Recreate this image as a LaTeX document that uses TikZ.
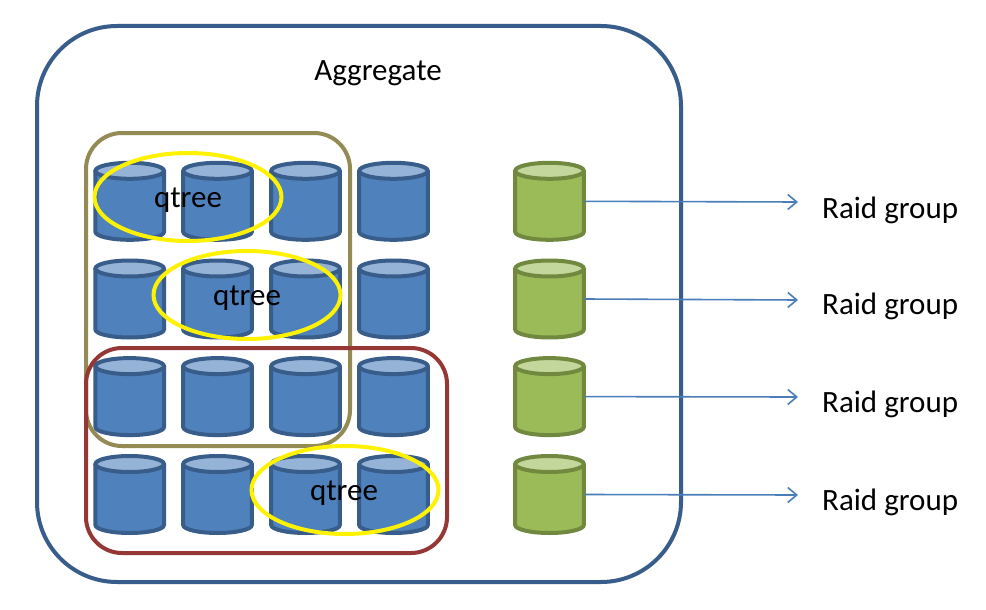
\documentclass[tikz,border=0pt]{standalone}
\usepackage{fontspec}
\setmainfont{Carlito}
\definecolor{bluefill}{HTML}{4F81BD}
\definecolor{blueline}{HTML}{385D8A}
\definecolor{bluetop}{HTML}{95B3D7}
\definecolor{greenfill}{HTML}{9BBB59}
\definecolor{greenline}{HTML}{71893F}
\definecolor{greentop}{HTML}{C3D69B}
\definecolor{olivebox}{HTML}{948A54}
\definecolor{redbox}{HTML}{953735}
\definecolor{arrowblue}{HTML}{4A7EBB}
\usetikzlibrary{shapes.geometric,arrows.meta}
\tikzset{
  cylslot/.style={minimum width=70pt,minimum height=78pt,inner sep=0pt,outer sep=0pt},
  cylline/.style={line width=4pt},
  group/.style={line width=4pt,rounded corners=#1},
  yring/.style={draw=yellow,line width=4pt,ellipse,minimum width=187pt,minimum height=88pt,inner sep=0pt},
  lbl/.style={font=\fontsize{31}{34}\selectfont,text=black,inner sep=0pt},
  rgarrow/.style={draw=arrowblue,line width=1.6pt,-{Straight Barb[length=9pt,width=15pt,line width=1.6pt]}}
}
\newcommand{\drum}[4]{% name, centre x, centre y, colour prefix
  \node[cylslot] (#1) at (#2,#3) {};
  \fill[#4fill] (#2-34.3,#3-30.5) -- (#2-34.3,#3+30.5) arc[x radius=34.3,y radius=8,start angle=180,end angle=0] -- (#2+34.3,#3-30.5) -- cycle;
  \draw[cylline,#4line] (#2-34.3,#3-30.5) -- (#2-34.3,#3+30.5) arc[x radius=34.3,y radius=8,start angle=180,end angle=0] -- (#2+34.3,#3-30.5);
  \draw[cylline,#4line,fill=#4top] (#2,#3-30.5) ellipse[x radius=34.3,y radius=8];
}
\begin{document}
\begin{tikzpicture}[x=1pt,y=-1pt]
\useasboundingbox (0,0) rectangle (986,610);
\fill[white] (0,0) rectangle (986,610);
\draw[blueline,group=80pt] (37,26) rectangle (681,582);
\node[lbl] (agg) at (378,73) {Aggregate};
\foreach \r/\y in {1/201.3,2/299,3/396.6,4/494.5}{
  \foreach \c/\x in {1/129.7,2/217.5,3/305.5,4/393.5}{
    \drum{b\r\c}{\x}{\y}{blue}
  }
  \drum{g\r}{549.5}{\y}{green}
}
\draw[olivebox,group=36pt] (86,133) rectangle (350,446);
\draw[redbox,group=36pt] (86,348) rectangle (447,553);
\node[yring] (e1) at (188,197) {};
\node[yring] (e2) at (247,295) {};
\node[yring] (e3) at (345,490) {};
\node[lbl] (q1) at (188,200) {qtree};
\node[lbl] (q2) at (247,298) {qtree};
\node[lbl] (q3) at (344,493) {qtree};
\foreach \r/\y/\ly in {1/202/210,2/300/306,3/397/404,4/495/502}{
  \coordinate (t\r) at (798,\y);
  \node[lbl,anchor=west] (r\r) at (822,\ly) {Raid group};
  \draw[rgarrow] (g\r.east) -- (t\r);
}
\end{tikzpicture}
\end{document}
